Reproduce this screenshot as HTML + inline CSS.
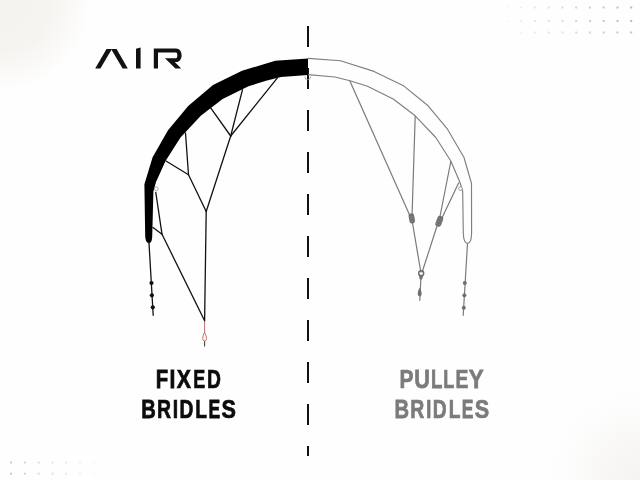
<!DOCTYPE html>
<html><head><meta charset="utf-8">
<style>
html,body{margin:0;padding:0;width:640px;height:480px;overflow:hidden;background:#fefefe;}
svg{display:block;position:absolute;left:0;top:0;will-change:transform;}
text{font-family:"Liberation Sans",sans-serif;font-weight:bold;}
</style></head>
<body>
<svg width="640" height="480" viewBox="0 0 640 480">
<defs>
<radialGradient id="bg" cx="0" cy="0" r="92" gradientUnits="userSpaceOnUse">
<stop offset="0" stop-color="#f4f2ed"/>
<stop offset="0.55" stop-color="#f6f4f0"/>
<stop offset="1" stop-color="#fefefe"/>
</radialGradient>
<radialGradient id="bg2" cx="640" cy="480" r="105" gradientUnits="userSpaceOnUse">
<stop offset="0" stop-color="#f4f3f0"/>
<stop offset="0.5" stop-color="#f8f7f5" stop-opacity="0.7"/>
<stop offset="1" stop-color="#fefefe" stop-opacity="0"/>
</radialGradient>
</defs>
<rect width="640" height="480" fill="#fefefe"/>
<rect width="640" height="480" fill="url(#bg)"/>
<rect width="640" height="480" fill="url(#bg2)"/>

<!-- dots -->
<g><rect x="506.5" y="6.5" width="2" height="2" fill="#b4ae98" opacity="0.10"/>
<rect x="506.5" y="20.0" width="2" height="2" fill="#b4ae98" opacity="0.10"/>
<rect x="506.5" y="31.5" width="2" height="2" fill="#b4ae98" opacity="0.09"/>
<rect x="520.2" y="6.5" width="2" height="2" fill="#b4ae98" opacity="0.18"/>
<rect x="520.2" y="20.0" width="2" height="2" fill="#b4ae98" opacity="0.18"/>
<rect x="520.2" y="31.5" width="2" height="2" fill="#b4ae98" opacity="0.16"/>
<rect x="534.0" y="6.5" width="2" height="2" fill="#b4ae98" opacity="0.27"/>
<rect x="534.0" y="20.0" width="2" height="2" fill="#b4ae98" opacity="0.27"/>
<rect x="534.0" y="31.5" width="2" height="2" fill="#b4ae98" opacity="0.23"/>
<rect x="547.7" y="6.5" width="2" height="2" fill="#b4ae98" opacity="0.35"/>
<rect x="547.7" y="20.0" width="2" height="2" fill="#b4ae98" opacity="0.35"/>
<rect x="547.7" y="31.5" width="2" height="2" fill="#b4ae98" opacity="0.30"/>
<rect x="561.5" y="6.5" width="2" height="2" fill="#b4ae98" opacity="0.43"/>
<rect x="561.5" y="20.0" width="2" height="2" fill="#b4ae98" opacity="0.43"/>
<rect x="561.5" y="31.5" width="2" height="2" fill="#b4ae98" opacity="0.37"/>
<rect x="575.2" y="6.5" width="2" height="2" fill="#b4ae98" opacity="0.52"/>
<rect x="575.2" y="20.0" width="2" height="2" fill="#b4ae98" opacity="0.52"/>
<rect x="575.2" y="31.5" width="2" height="2" fill="#b4ae98" opacity="0.44"/>
<rect x="589.0" y="6.5" width="2" height="2" fill="#b4ae98" opacity="0.60"/>
<rect x="589.0" y="20.0" width="2" height="2" fill="#b4ae98" opacity="0.60"/>
<rect x="589.0" y="31.5" width="2" height="2" fill="#b4ae98" opacity="0.51"/>
<rect x="602.7" y="6.5" width="2" height="2" fill="#b4ae98" opacity="0.68"/>
<rect x="602.7" y="20.0" width="2" height="2" fill="#b4ae98" opacity="0.68"/>
<rect x="602.7" y="31.5" width="2" height="2" fill="#b4ae98" opacity="0.58"/>
<rect x="616.5" y="6.5" width="2" height="2" fill="#b4ae98" opacity="0.77"/>
<rect x="616.5" y="20.0" width="2" height="2" fill="#b4ae98" opacity="0.77"/>
<rect x="616.5" y="31.5" width="2" height="2" fill="#b4ae98" opacity="0.65"/>
<rect x="630.2" y="6.5" width="2" height="2" fill="#b4ae98" opacity="0.85"/>
<rect x="630.2" y="20.0" width="2" height="2" fill="#b4ae98" opacity="0.85"/>
<rect x="630.2" y="31.5" width="2" height="2" fill="#b4ae98" opacity="0.72"/>
<rect x="10.0" y="461.5" width="2" height="2" fill="#a8a8a6" opacity="0.55"/>
<rect x="10.0" y="472.7" width="2" height="2" fill="#a8a8a6" opacity="0.55"/>
<rect x="24.0" y="461.5" width="2" height="2" fill="#a8a8a6" opacity="0.47"/>
<rect x="24.0" y="472.7" width="2" height="2" fill="#a8a8a6" opacity="0.47"/>
<rect x="37.7" y="461.5" width="2" height="2" fill="#a8a8a6" opacity="0.39"/>
<rect x="37.7" y="472.7" width="2" height="2" fill="#a8a8a6" opacity="0.39"/>
<rect x="51.5" y="461.5" width="2" height="2" fill="#a8a8a6" opacity="0.31"/>
<rect x="51.5" y="472.7" width="2" height="2" fill="#a8a8a6" opacity="0.31"/>
<rect x="65.2" y="461.5" width="2" height="2" fill="#a8a8a6" opacity="0.24"/>
<rect x="65.2" y="472.7" width="2" height="2" fill="#a8a8a6" opacity="0.24"/>
<rect x="79.0" y="461.5" width="2" height="2" fill="#a8a8a6" opacity="0.16"/>
<rect x="79.0" y="472.7" width="2" height="2" fill="#a8a8a6" opacity="0.16"/>
<rect x="92.7" y="461.5" width="2" height="2" fill="#a8a8a6" opacity="0.08"/>
<rect x="92.7" y="472.7" width="2" height="2" fill="#a8a8a6" opacity="0.08"/></g>

<!-- dashed center line -->
<line x1="308" y1="26" x2="308" y2="456" stroke="#111" stroke-width="2" stroke-dasharray="21 21"/>

<!-- AIR logo -->
<g fill="#111">
<polygon points="95.2,68.4 100.4,68.4 111.9,49 106.5,49"/>
<polygon points="111.1,49 116.6,49 127.8,68.4 122.6,68.4"/>
<polygon points="136,48.8 140.6,47.6 140.6,68.4 136,68.4"/>
<path d="M153.8 48.4 L176 48.4 C179.6 48.4 181.6 51.4 181.6 55.3 C181.6 59.2 179.6 62.1 176 62.1 L174.8 62.1 L181.2 68.6 L175.4 68.6 L165 58.2 L176 58.2 C177 58.2 177.3 56.9 177.3 55.3 C177.3 53.7 177 52.5 176 52.5 L158 52.5 L158 68.6 L153.8 68.6 Z"/>
</g>

<!-- LEFT canopy (black) -->
<path fill="#000" d="M308 58.4 L275.2 60.7 L242 70.8 L213 85.1 L188.2 106 L168 130.2 L152.6 157.2 L144.4 184.2 L145.2 237 Q146 243.2 148.8 243.2 Q151.8 243.2 152.2 237 L153.4 191.5 L156 182 L165.5 161 L180.5 137.5 L200.8 115.8 L222.6 99 L248.5 86.2 L266 80.8 L281 77 L308 75 Z"/>

<!-- RIGHT canopy (outline) -->
<path fill="none" stroke="#7f7f7f" stroke-width="1.15" stroke-linejoin="round" d="M308 58.4 L340.5 60.7 L374 71.4 L403 85.4 L427.5 105.2 L447.5 129.2 L464 157.5 L471.5 183.5 L471.6 233 Q471.4 243.4 467.6 243.4 Q463.6 243.4 463.3 233 L462.7 191.5 L459.8 182 L450.8 161 L435.8 137.5 L415.2 115.8 L393.2 99 L367.5 86.2 L350 80.8 L335 77 L308 74.6"/>

<!-- center hook -->
<path d="M304.8 76.6 Q305 79.8 307.8 79.8 Q310.6 79.8 310.8 76.4" fill="none" stroke="#999" stroke-width="0.8"/>

<!-- LEFT bridles -->
<g stroke="#111" stroke-width="1.3" fill="none" stroke-linecap="round">
<line x1="277.2" y1="78.2" x2="230.7" y2="136"/>
<line x1="242.5" y1="89.6" x2="230.7" y2="136"/>
<line x1="210.5" y1="107.6" x2="230.7" y2="136"/>
<line x1="230.7" y1="136" x2="206.2" y2="211.5"/>
<line x1="185.5" y1="133" x2="188.5" y2="174.8"/>
<line x1="166" y1="161" x2="188.5" y2="174.8"/>
<line x1="188.5" y1="174.8" x2="206.2" y2="211.5"/>
<line x1="206.2" y1="211.5" x2="204.6" y2="320.8"/>
<line x1="155.8" y1="192.5" x2="162" y2="234.2"/>
<line x1="153" y1="227.5" x2="162" y2="234.2"/>
<line x1="162" y1="234.2" x2="204.6" y2="320.8"/>
<line x1="149" y1="243" x2="153.2" y2="315.3"/>
</g>
<circle cx="156.3" cy="188.8" r="1.9" fill="#fff" stroke="#888" stroke-width="0.7"/>
<g fill="#111">
<circle cx="151.5" cy="283" r="2.1"/>
<circle cx="151.9" cy="295.3" r="2.1"/>
<circle cx="152.8" cy="307.3" r="2.1"/>
</g>
<!-- red pigtail -->
<g stroke="#b05858" stroke-width="0.85" fill="none">
<line x1="204.6" y1="320.8" x2="204.6" y2="332"/>
<path d="M204.6 332.2 Q206.6 336 206.5 338.6 Q206.4 341 204.6 341 Q202.8 341 202.7 338.6 Q202.6 336 204.6 332.2 Z"/>
</g>
<line x1="204.6" y1="341.2" x2="204.6" y2="346.6" stroke="#444" stroke-width="1.1"/>

<!-- RIGHT bridles -->
<g stroke="#7a7a7a" stroke-width="1.2" fill="none" stroke-linecap="round">
<line x1="350" y1="81.2" x2="410.5" y2="217"/>
<line x1="415.2" y1="116.2" x2="412" y2="217"/>
<line x1="450.8" y1="161.5" x2="439.5" y2="219"/>
<line x1="458.6" y1="183" x2="441.5" y2="219"/>
<line x1="412" y1="220" x2="420.8" y2="272"/>
<line x1="438" y1="223" x2="422.2" y2="272"/>
<line x1="421" y1="276" x2="419.8" y2="300.3"/>
<line x1="467.5" y1="243.5" x2="463.2" y2="315.3"/>
</g>
<circle cx="460.4" cy="188.6" r="1.8" fill="#fff" stroke="#8a8a8a" stroke-width="0.8"/>
<g fill="#6f6f6f">
<g transform="translate(411.8 218.4) rotate(-10)"><rect x="-2.8" y="-5" width="5.6" height="10" rx="2.4"/><path d="M-2.4 -2 H2.4 M-2.6 0.5 H2.6 M-2.4 3 H2.4" stroke="#8a8a8a" stroke-width="0.6"/></g>
<g transform="translate(439.3 221.3) rotate(20)"><rect x="-3" y="-5.4" width="6" height="10.8" rx="2.6"/><path d="M-2.6 -2.2 H2.6 M-2.8 0.4 H2.8 M-2.6 3 H2.6" stroke="#8a8a8a" stroke-width="0.6"/></g>
<path d="M419.7 287.6 Q421.9 291.6 421.7 294 Q421.4 296.4 419.7 296.4 Q418 296.4 417.7 294 Q417.5 291.6 419.7 287.6 Z"/>
<circle cx="464.8" cy="283" r="2"/>
<circle cx="464.4" cy="295.3" r="2"/>
<circle cx="463.8" cy="307.8" r="2"/>
</g>
<circle cx="421.2" cy="273.2" r="2.5" fill="none" stroke="#6a6a6a" stroke-width="1.4"/>
<path d="M418.9 275.6 L423.3 275.6 L422 279.4 L419.8 279.4 Z" fill="#6f6f6f"/>

<!-- Labels -->
<g fill="#0c0c0c" stroke="#0c0c0c" stroke-width="0.75" font-size="26.4"><text transform="translate(155.87 387.7) scale(0.769 1)">F</text><text transform="translate(169.56 387.7) scale(0.802 1)">I</text><text transform="translate(176.79 387.7) scale(0.805 1)">X</text><text transform="translate(193.28 387.7) scale(0.679 1)">E</text><text transform="translate(206.94 387.7) scale(0.729 1)">D</text></g>
<g fill="#0c0c0c" stroke="#0c0c0c" stroke-width="0.75" font-size="26.4"><text transform="translate(141.13 417.6) scale(0.764 1)">B</text><text transform="translate(156.93 417.6) scale(0.734 1)">R</text><text transform="translate(172.67 417.6) scale(0.736 1)">I</text><text transform="translate(179.44 417.6) scale(0.729 1)">D</text><text transform="translate(195.34 417.6) scale(0.727 1)">L</text><text transform="translate(208.55 417.6) scale(0.665 1)">E</text><text transform="translate(221.45 417.6) scale(0.819 1)">S</text></g>
<g fill="#7b7b7b" stroke="#7b7b7b" stroke-width="0.75" font-size="26.4"><text transform="translate(399.58 387.7) scale(0.790 1)">P</text><text transform="translate(414.17 387.7) scale(0.822 1)">U</text><text transform="translate(430.98 387.7) scale(0.705 1)">L</text><text transform="translate(443.26 387.7) scale(0.686 1)">L</text><text transform="translate(455.44 387.7) scale(0.729 1)">E</text><text transform="translate(468.74 387.7) scale(0.846 1)">Y</text></g>
<g fill="#7b7b7b" stroke="#7b7b7b" stroke-width="0.75" font-size="26.4"><text transform="translate(394.43 417.6) scale(0.764 1)">B</text><text transform="translate(410.23 417.6) scale(0.734 1)">R</text><text transform="translate(425.97 417.6) scale(0.736 1)">I</text><text transform="translate(432.74 417.6) scale(0.729 1)">D</text><text transform="translate(448.64 417.6) scale(0.727 1)">L</text><text transform="translate(461.85 417.6) scale(0.665 1)">E</text><text transform="translate(474.75 417.6) scale(0.819 1)">S</text></g>
</svg>
</body></html>
